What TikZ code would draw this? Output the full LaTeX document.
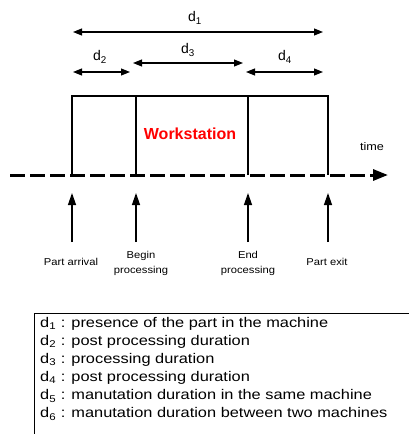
\documentclass[tikz,border=0pt]{standalone}
\usepackage{fontspec}
\usepackage{graphicx}
\setmainfont{Liberation Sans}
\usetikzlibrary{arrows.meta}
\newcommand{\legtext}[1]{\scalebox{1.17}[1]{#1}}
\newcommand{\smtext}[1]{\scalebox{1.12}[1]{\begin{tabular}{@{}c@{}}#1\end{tabular}}}
\tikzset{
  dim/.style={line width=1.1pt,{Triangle[length=9pt,width=7pt]}-{Triangle[length=9pt,width=7pt]}},
  evt/.style={line width=1.3pt,-{Triangle[length=12pt,width=8pt]}},
  lbl/.style={font=\fontsize{14}{16}\selectfont,inner sep=0pt},
  small/.style={font=\fontsize{10}{15}\selectfont,align=center,inner sep=0pt},
  leg/.style={font=\fontsize{14}{16}\selectfont,anchor=west,inner sep=0pt},
  box/.style={line width=1.3pt}
}
\begin{document}
\begin{tikzpicture}[x=1pt,y=-1pt]
\useasboundingbox (0,0) rectangle (409,434);
% dimension arrows
\coordinate (a1) at (73,32); \coordinate (b1) at (323,32);
\draw[dim] (a1) -- (b1);
\node[lbl] (d1) at (195,18) {d\textsubscript{1}};
\coordinate (a2) at (73,72); \coordinate (b2) at (130,72);
\draw[dim] (a2) -- (b2);
\node[lbl] (d2) at (100,57) {d\textsubscript{2}};
\coordinate (a3) at (133,63); \coordinate (b3) at (243,63);
\draw[dim] (a3) -- (b3);
\node[lbl] (d3) at (188,50) {d\textsubscript{3}};
\coordinate (a4) at (246,72); \coordinate (b4) at (323,72);
\draw[dim] (a4) -- (b4);
\node[lbl] (d4) at (285,57) {d\textsubscript{4}};
% workstation boxes
\coordinate (p1) at (72,175); \coordinate (p2) at (136,175);
\coordinate (p3) at (248,175); \coordinate (p4) at (328,175);
\draw[box] (p1) -- (72,96) -- (328,96) -- (p4);
\draw[box] (p2) -- (136,96);
\draw[box] (p3) -- (248,96);
\node[font=\fontsize{16}{18}\selectfont\bfseries,text=red,inner sep=0pt] (ws) at (190,134) {Workstation};
\node[font=\fontsize{11}{13}\selectfont,inner sep=0pt] (time) at (372,147) {\scalebox{1.15}[1]{time}};
% timeline
\coordinate (t0) at (10,175); \coordinate (t1) at (388,175);
\draw[line width=3pt,dash pattern=on 15pt off 5pt,-{Triangle[length=15pt,width=11pt]}] (t0) -- (t1);
% event arrows
\foreach \x/\n in {72/e1,136/e2,248/e3,328/e4}{
  \coordinate (\n b) at (\x,242);
  \coordinate (\n t) at (\x,193);
  \draw[evt] (\n b) -- (\n t);
}
\node[small] (l1) at (71,262) {\smtext{Part arrival}};
\node[small] (l2) at (141,263) {\smtext{Begin\\processing}};
\node[small] (l3) at (248,263) {\smtext{End\\processing}};
\node[small] (l4) at (327,262) {\smtext{Part exit}};
% legend
\draw[line width=0.8pt] (34,434) -- (34,313) -- (409,313);
\node[leg] (g1) at (40,324) {\legtext{d\textsubscript{1} : presence of the part in the machine}};
\node[leg] (g2) at (40,342) {\legtext{d\textsubscript{2} : post processing duration}};
\node[leg] (g3) at (40,360) {\legtext{d\textsubscript{3} : processing duration}};
\node[leg] (g4) at (40,378) {\legtext{d\textsubscript{4} : post processing duration}};
\node[leg] (g5) at (40,396) {\legtext{d\textsubscript{5} : manutation duration in the same machine}};
\node[leg] (g6) at (40,414) {\legtext{d\textsubscript{6} : manutation duration between two machines}};
\end{tikzpicture}
\end{document}
